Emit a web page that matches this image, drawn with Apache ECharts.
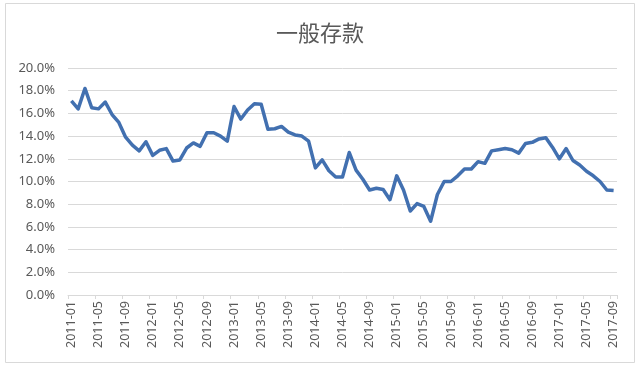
<!DOCTYPE html>
<html>
<head>
<meta charset="utf-8">
<script src="https://cdn.jsdelivr.net/npm/echarts@6/dist/echarts.min.js"></script>
<style>
html,body{margin:0;padding:0;background:#fff;}
#c{width:640px;height:369px;}
</style>
</head>
<body>
<div id="c"></div>
<script>
var titleText = '一般存款';
var startYear = 2011, startMonth = 1, monthCount = 81;
var yTickMin = 0, yTickMax = 20, yTickStep = 2;
var values = [
  17.1, 16.4, 18.2, 16.5, 16.4, 17.0, 15.9, 15.2, 13.9, 13.2,
  12.7, 13.5, 12.3, 12.75, 12.9, 11.8, 11.9, 12.95, 13.4, 13.1,
  14.3, 14.3, 14.0, 13.55, 16.6, 15.5, 16.3, 16.85, 16.8, 14.6,
  14.65, 14.85, 14.35, 14.1, 14.0, 13.55, 11.2, 11.9, 10.95, 10.4,
  10.4, 12.55, 11.0, 10.2, 9.25, 9.4, 9.3, 8.4, 10.5, 9.25,
  7.4, 8.05, 7.8, 6.5, 8.85, 10.0, 10.0, 10.5, 11.1, 11.1,
  11.75, 11.6, 12.7, 12.8, 12.9, 12.8, 12.5, 13.35, 13.45, 13.75,
  13.85, 13.0, 12.0, 12.9, 11.85, 11.45, 10.9, 10.5, 10.0, 9.25,
  9.2
];
var categories = [];
for (var i = 0; i < monthCount; i++) {
  var m = startMonth - 1 + i;
  var y = startYear + Math.floor(m / 12);
  var mm = (m % 12) + 1;
  categories.push(y + '-' + (mm < 10 ? '0' + mm : '' + mm));
}
var chart = echarts.init(document.getElementById('c'), null, {renderer: 'canvas'});
chart.setOption({
  animation: false,
  backgroundColor: '#ffffff',
  graphic: [{
    type: 'rect',
    shape: {x: 5.5, y: 3.5, width: 629, height: 359},
    style: {fill: 'none', stroke: '#d9d9d9', lineWidth: 1},
    silent: true
  }],
  title: {
    text: titleText,
    left: 'center',
    top: 17,
    textStyle: {
      fontFamily: 'Noto Sans CJK SC',
      fontSize: 22,
      fontWeight: 'normal',
      color: '#595959'
    }
  },
  grid: {left: 68, right: 23, top: 68, bottom: 74, containLabel: false},
  xAxis: {
    type: 'category',
    data: categories,
    boundaryGap: true,
    axisLine: {lineStyle: {color: '#d9d9d9', width: 1}},
    axisTick: {show: true, interval: 3, alignWithLabel: false, length: 4, lineStyle: {color: '#d9d9d9'}},
    axisLabel: {
      interval: 3,
      rotate: 90,
      color: '#595959',
      fontFamily: 'Noto Sans',
      fontSize: 12.5,
      margin: 6
    },
    splitLine: {show: false}
  },
  yAxis: {
    type: 'value',
    min: yTickMin,
    max: yTickMax,
    interval: yTickStep,
    axisLine: {show: false},
    axisTick: {show: false},
    axisLabel: {
      color: '#595959',
      fontFamily: 'Noto Sans',
      fontSize: 13,
      margin: 13,
      formatter: function (v) { return v.toFixed(1) + '%'; }
    },
    splitLine: {lineStyle: {color: '#d9d9d9', width: 1}}
  },
  series: [{
    type: 'line',
    data: values,
    symbol: 'none',
    smooth: false,
    lineStyle: {color: '#4270b0', width: 3.5, join: 'round'}
  }]
});
</script>
</body>
</html>
